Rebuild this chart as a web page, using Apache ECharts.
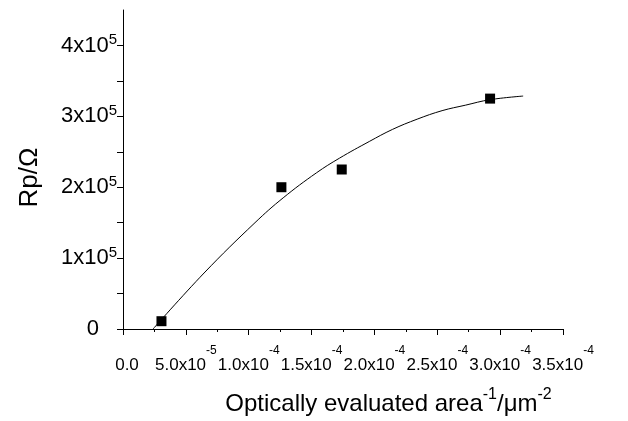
<!DOCTYPE html>
<html>
<head>
<meta charset="utf-8">
<script src="https://cdn.jsdelivr.net/npm/echarts@6/dist/echarts.min.js"></script>
<style>
html,body{margin:0;padding:0;background:#fff;}
#chart{width:628px;height:421px;}
</style>
</head>
<body>
<div id="chart"></div>
<script>
// measured points (x: inverse area in µm^-2, y: Rp in Ω)
const pointX = [3.06e-5, 1.26e-4, 1.74e-4, 2.92e-4];
const pointY = [1.1e4, 2.0e5, 2.25e5, 3.25e5];
// fitted curve
const curveX = [2.39e-5, 6.45e-5, 1.05e-4, 1.274e-4, 1.538e-4, 1.722e-4, 1.959e-4, 2.143e-4, 2.34e-4, 2.538e-4, 2.723e-4, 2.92e-4, 3.183e-4];
const curveY = [0, 7.9e4, 1.50e5, 1.85e5, 2.202e5, 2.41e5, 2.645e5, 2.815e5, 2.96e5, 3.08e5, 3.157e5, 3.235e5, 3.286e5];
// ticks
const xLabelValues = [0, 5e-5, 1e-4, 1.5e-4, 2e-4, 2.5e-4, 3e-4, 3.5e-4];
const yLabelValues = [0, 1e5, 2e5, 3e5, 4e5];
const yTickValues = [0, 5e4, 1e5, 1.5e5, 2e5, 2.5e5, 3e5, 3.5e5, 4e5];

const FONT = 'Liberation Sans, Arial, sans-serif';
const chart = echarts.init(document.getElementById('chart'), null, {renderer: 'canvas'});

function xLabel(v) {
  if (Math.abs(v) < 1e-12) return '{z|0.0}';
  const s = v.toExponential(1).split('e');
  return '{m|' + s[0] + 'x10}{e|' + s[1].replace('+', '') + '}';
}
function yLabel(v) {
  if (v === 0) return '{z|0}';
  const s = v.toExponential(0).split('e');
  return '{m|' + s[0] + 'x10}{e|' + s[1].replace('+', '') + '}';
}

chart.setOption({
  backgroundColor: '#fff',
  animation: false,
  grid: {left: 123, right: 65, top: 10, bottom: 92, containLabel: false},
  xAxis: {
    type: 'value', min: 0, max: 3.5e-4, interval: 5e-5,
    name: '{t|Optically evaluated area}{e|-1}{t|/μm}{e|-2}',
    nameLocation: 'middle', nameGap: 58,
    nameTextStyle: {
      padding: [0, 0, 0, 91],
      rich: {
        t: {fontFamily: FONT, fontSize: 24, color: '#000', lineHeight: 34},
        e: {fontFamily: FONT, fontSize: 16, color: '#000', verticalAlign: 'top', lineHeight: 16}
      }
    },
    splitLine: {show: false},
    axisLine: {onZero: false, lineStyle: {color: '#000', width: 1}},
    axisTick: {length: 6, lineStyle: {color: '#000'}},
    minorTick: {show: true, splitNumber: 2, length: 3, lineStyle: {color: '#000'}},
    axisLabel: {
      margin: 16,
      customValues: xLabelValues,
      showMinLabel: true, showMaxLabel: true, hideOverlap: false,
      formatter: xLabel,
      rich: {
        m: {fontFamily: FONT, fontSize: 17, color: '#000', lineHeight: 40},
        z: {fontFamily: FONT, fontSize: 17, color: '#000', lineHeight: 40, padding: [0, 0, 0, 8]},
        e: {fontFamily: FONT, fontSize: 12, color: '#000', verticalAlign: 'top', lineHeight: 16}
      }
    }
  },
  yAxis: {
    type: 'value', min: 0, max: 4.5e5,
    name: 'Rp/Ω', nameLocation: 'middle', nameGap: 80,
    nameTextStyle: {fontFamily: FONT, fontSize: 26, color: '#000', padding: [0, 16, 0, 0]},
    splitLine: {show: false},
    axisLine: {show: true, lineStyle: {color: '#000', width: 1}},
    axisTick: {show: true, length: 6, customValues: yTickValues, lineStyle: {color: '#000'}},
    axisLabel: {
      margin: 6,
      customValues: yLabelValues,
      formatter: yLabel,
      rich: {
        m: {fontFamily: FONT, fontSize: 22, color: '#000', lineHeight: 26},
        z: {fontFamily: FONT, fontSize: 22, color: '#000', lineHeight: 26, padding: [0, 18, 0, 0]},
        e: {fontFamily: FONT, fontSize: 15, color: '#000', verticalAlign: 'top', lineHeight: 15}
      }
    }
  },
  series: [
    {
      type: 'line', data: curveX.map((x, i) => [x, curveY[i]]),
      smooth: 0.4, showSymbol: false, symbol: 'none',
      lineStyle: {color: '#000', width: 1}
    },
    {
      type: 'scatter', data: pointX.map((x, i) => [x, pointY[i]]),
      symbol: 'rect', symbolSize: 10,
      itemStyle: {color: '#000', opacity: 1}
    }
  ]
});
</script>
</body>
</html>
